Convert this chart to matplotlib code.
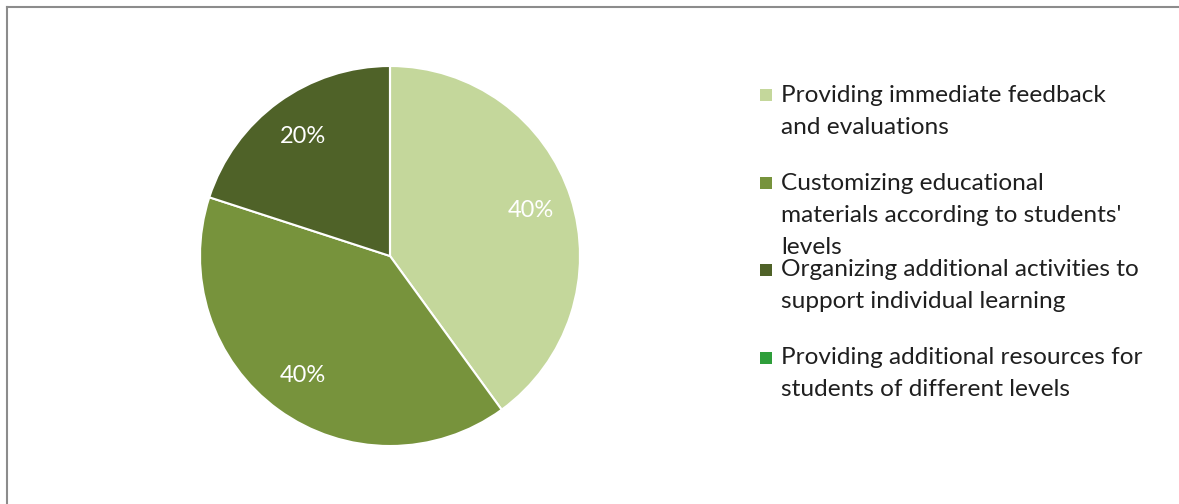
import matplotlib

matplotlib.use("Agg")

import matplotlib.pyplot as plt
from matplotlib.lines import Line2D
from matplotlib.patches import Rectangle

W, H = 1179, 504

categories = [
    "Providing immediate feedback\nand evaluations",
    "Customizing educational\nmaterials according to students'\nlevels",
    "Organizing additional activities to\nsupport individual learning",
    "Providing additional resources for\nstudents of different levels",
]
shares = [40, 40, 20, 0]
colors = ["#C4D79B", "#77933C", "#4F6228", "#2E9E3A"]

# top of each legend entry, in pixels from the top of the figure
legend_tops = [95, 183, 270, 358]
line_gap = 32

plt.rcParams["font.family"] = ["Lato", "DejaVu Sans"]

fig = plt.figure(figsize=(W / 100, H / 100), dpi=100)

# pie centred at (390, 256) px with a 190 px radius
cx, cy, r = 390, 256, 190
ax = fig.add_axes([(cx - r) / W, (H - cy - r) / H, 2 * r / W, 2 * r / H])


def pct_label(p):
    return f"{p:.0f}%" if p > 0 else ""


wedges, _, autotexts = ax.pie(
    shares,
    colors=colors,
    startangle=90,
    counterclock=False,
    radius=1,
    autopct=pct_label,
    pctdistance=0.78,
    wedgeprops=dict(edgecolor="white", linewidth=1.5),
    textprops=dict(color="white", fontsize=17),
)
ax.set_xlim(-1, 1)
ax.set_ylim(-1, 1)
ax.set_aspect("equal")

# hand-placed legend with wrapped labels
for label, color, top in zip(categories, colors, legend_tops):
    y = 1 - top / H
    fig.patches.append(
        Rectangle((760 / W, y - 6 / H), 12 / W, 12 / H, transform=fig.transFigure,
                  facecolor=color, edgecolor="none")
    )
    for i, line in enumerate(label.split("\n")):
        fig.text(781 / W, 1 - (top + i * line_gap) / H, line, fontsize=17.6,
                 color="#1F1F1F", va="center", ha="left")

# chart frame edges on the left and top
fig.add_artist(Line2D([7 / W, 7 / W], [0, 1 - 7 / H], color="#8C8C8C", lw=1.5,
                      transform=fig.transFigure))
fig.add_artist(Line2D([7 / W, 1], [1 - 7 / H, 1 - 7 / H], color="#8C8C8C", lw=1.5,
                      transform=fig.transFigure))

fig.savefig("out.png", dpi=100)
